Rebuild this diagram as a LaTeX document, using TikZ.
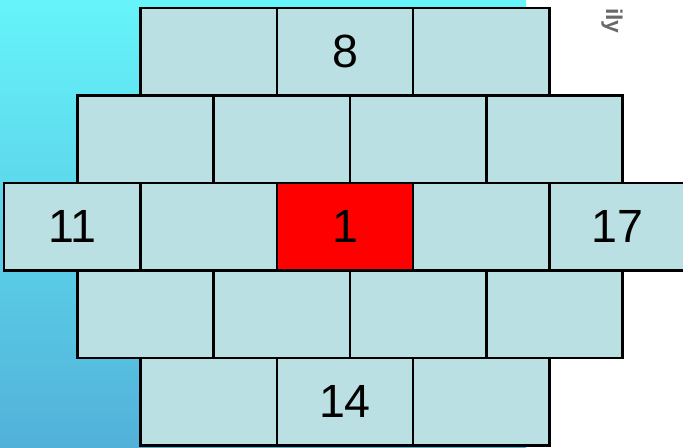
\documentclass[tikz,border=0pt]{standalone}
\usepackage{fontspec}
\setmainfont{Liberation Sans}
\usepackage{xcolor}
\definecolor{cellfill}{HTML}{BBE0E3}
\definecolor{hotcell}{HTML}{FF0000}
\definecolor{skytop}{HTML}{66F4FA}
\definecolor{skybot}{HTML}{52B1D9}
\definecolor{scrap}{HTML}{444444}
\usepackage{tikz}
\usetikzlibrary{positioning, calc}
\tikzset{
  cellbox/.style={
    draw=black, fill=cellfill,
    line width=1.4pt,
    minimum width=2.726cm, minimum height=1.75cm,
    inner sep=0pt, outer sep=0pt,
    font=\fontsize{26.5pt}{30pt}\selectfont,
  },
  hotbox/.style={
    cellbox, fill=hotcell,
  },
}

\begin{document}
\begin{tikzpicture}[node distance=0pt]

  \useasboundingbox (0,0) rectangle (13.66,8.96);
  \clip (0,0) rectangle (13.66,8.96);

  % Backdrop
  \shade[top color=skytop, bottom color=skybot] (0,0) rectangle (10.52,8.96);
  \node[rotate=-90, anchor=east, text=scrap, opacity=0.8, inner sep=0pt,
        font=\fontsize{13pt}{15pt}\selectfont\bfseries] (tag)
    at (12.24,8.28) {ily};

  % Middle row
  \node[hotbox] (mid) at (6.9,4.425) {1};
  \node[cellbox, left=of mid] (w1) {};
  \node[cellbox, left=of w1] (w2) {11};
  \node[cellbox, right=of mid] (e1) {};
  \node[cellbox, right=of e1] (e2) {17};

  % Upper half row
  \node[cellbox, anchor=south east] (u2) at ($(mid.north)+(1mm,0)$) {};
  \node[cellbox, left=of u2] (u1) {};
  \node[cellbox, right=of u2] (u3) {};
  \node[cellbox, right=of u3] (u4) {};

  % Lower half row
  \node[cellbox, anchor=north east] (d2) at ($(mid.south)+(1mm,0)$) {};
  \node[cellbox, left=of d2] (d1) {};
  \node[cellbox, right=of d2] (d3) {};
  \node[cellbox, right=of d3] (d4) {};

  % Top row
  \node[cellbox, above=1.75cm of mid] (top) {8};
  \node[cellbox, left=of top] (t1) {};
  \node[cellbox, right=of top] (t3) {};

  % Bottom row
  \node[cellbox, below=1.75cm of mid] (bot) {14};
  \node[cellbox, left=of bot] (b1) {};
  \node[cellbox, right=of bot] (b3) {};

\end{tikzpicture}
\end{document}
